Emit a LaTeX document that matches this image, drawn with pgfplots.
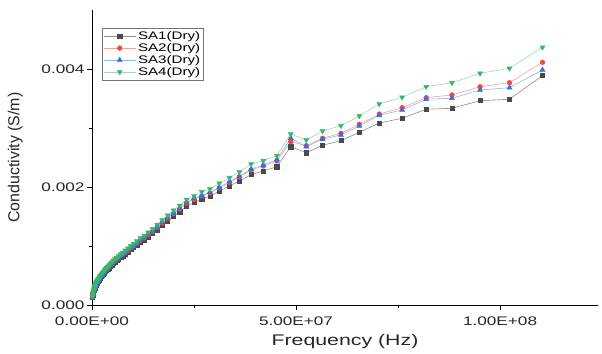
\documentclass[border=0pt]{standalone}
\usepackage{fontspec}
\setmainfont{Liberation Sans}[FakeStretch=1.38]
\newfontfamily\plainsans{Liberation Sans}
\usepackage{pgfplots}
\usepackage{pgfplotstable}
\pgfplotsset{compat=1.18}
\definecolor{cA}{HTML}{4A4A4A}
\definecolor{cAl}{HTML}{8C8C8C}
\definecolor{cB}{HTML}{F04848}
\definecolor{cBl}{HTML}{F7A0A0}
\definecolor{cC}{HTML}{2F6FE8}
\definecolor{cCl}{HTML}{93B5F2}
\definecolor{cD}{HTML}{3DB36B}
\definecolor{cDl}{HTML}{9ED9B3}
\pgfplotstableread{
f s1 s2 s3 s4
0.10 0.000131 0.000135 0.000136 0.000140
0.20 0.000172 0.000177 0.000178 0.000183
0.30 0.000205 0.000211 0.000212 0.000218
0.40 0.000229 0.000236 0.000237 0.000244
0.52 0.000250 0.000258 0.000259 0.000267
0.56 0.000261 0.000269 0.000270 0.000278
0.60 0.000270 0.000279 0.000280 0.000288
0.65 0.000282 0.000291 0.000292 0.000301
0.70 0.000291 0.000300 0.000302 0.000311
0.75 0.000301 0.000310 0.000312 0.000321
0.81 0.000311 0.000320 0.000322 0.000332
0.87 0.000320 0.000330 0.000332 0.000342
0.94 0.000332 0.000342 0.000344 0.000354
1.01 0.000344 0.000354 0.000356 0.000367
1.09 0.000355 0.000366 0.000368 0.000379
1.17 0.000367 0.000378 0.000380 0.000391
1.26 0.000376 0.000388 0.000390 0.000402
1.36 0.000388 0.000400 0.000402 0.000414
1.47 0.000400 0.000413 0.000415 0.000427
1.58 0.000412 0.000425 0.000427 0.000440
1.70 0.000426 0.000439 0.000441 0.000454
1.84 0.000438 0.000452 0.000454 0.000468
1.98 0.000454 0.000468 0.000470 0.000484
2.13 0.000466 0.000481 0.000483 0.000497
2.30 0.000483 0.000498 0.000500 0.000515
2.48 0.000499 0.000514 0.000517 0.000533
2.67 0.000515 0.000531 0.000534 0.000550
2.87 0.000532 0.000548 0.000551 0.000568
3.10 0.000551 0.000568 0.000571 0.000588
3.34 0.000569 0.000587 0.000590 0.000608
3.60 0.000589 0.000607 0.000610 0.000628
3.87 0.000609 0.000628 0.000631 0.000650
4.17 0.000630 0.000650 0.000653 0.000673
4.50 0.000654 0.000675 0.000678 0.000698
4.85 0.000678 0.000700 0.000703 0.000724
5.22 0.000703 0.000725 0.000729 0.000751
5.62 0.000728 0.000750 0.000754 0.000777
6.06 0.000753 0.000776 0.000780 0.000803
6.53 0.000777 0.000801 0.000805 0.000829
7.04 0.000810 0.000835 0.000839 0.000864
7.58 0.000834 0.000860 0.000864 0.000890
8.17 0.000867 0.000894 0.000898 0.000925
8.80 0.000899 0.000927 0.000932 0.000960
9.50 0.000941 0.000970 0.000975 0.001004
10.2 0.000974 0.001004 0.001009 0.001039
11.0 0.001014 0.001046 0.001051 0.001083
11.85 0.001063 0.001096 0.001102 0.001135
12.8 0.001104 0.001138 0.001144 0.001178
13.8 0.001153 0.001189 0.001195 0.001231
14.85 0.001210 0.001248 0.001254 0.001292
16.0 0.001276 0.001315 0.001322 0.001362
17.2 0.001349 0.001391 0.001398 0.001440
18.55 0.001423 0.001468 0.001475 0.001519
20.0 0.001504 0.001551 0.001559 0.001606
21.5 0.001579 0.001628 0.001636 0.001685
23.2 0.001676 0.001728 0.001737 0.001789
25.0 0.001734 0.001788 0.001805 0.001848
26.9 0.001792 0.001848 0.001856 0.001920
28.9 0.001848 0.001898 0.001907 0.001966
31.2 0.001927 0.001983 0.001992 0.002063
33.7 0.002017 0.002076 0.002093 0.002158
36.1 0.002102 0.002170 0.002178 0.002254
39.0 0.002209 0.002288 0.002305 0.002390
42.0 0.002271 0.002356 0.002373 0.002446
45.3 0.002344 0.002441 0.002466 0.002531
48.7 0.002683 0.002768 0.002826 0.002898
52.5 0.002581 0.002700 0.002683 0.002797
56.5 0.002707 0.002826 0.002809 0.002949
61.0 0.002785 0.002910 0.002882 0.003039
65.5 0.002927 0.003063 0.003034 0.003204
70.4 0.003085 0.003237 0.003216 0.003407
76.0 0.003165 0.003344 0.003305 0.003521
81.9 0.003317 0.003514 0.003487 0.003700
88.2 0.003334 0.003560 0.003504 0.003768
95.1 0.003463 0.003700 0.003644 0.003927
102.3 0.003487 0.003768 0.003683 0.004012
110.4 0.003887 0.004114 0.003983 0.004368
}\data
\begin{document}
\begin{tikzpicture}
\begin{axis}[
  scale only axis,
  width=506bp, height=295bp,
  xmin=0, xmax=124, ymin=0, ymax=0.005,
  axis x line*=bottom, axis y line*=left,
  axis line style={-, line width=1pt, black},
  tick align=outside,
  major tick length=5bp, minor tick length=3bp,
  tick style={black, line width=0.9pt},
  xtick={0,50,100}, minor xtick={25,75},
  xticklabels={0.00E+00,5.00E+07,1.00E+08},
  ytick={0,0.002,0.004}, minor ytick={0.001,0.003},
  yticklabels={0.000,0.002,0.004},
  scaled x ticks=false, scaled y ticks=false,
  ticklabel style={font=\fontsize{12.5}{14}\selectfont, text=black!85},
  xticklabel style={yshift=-3bp},
  yticklabel style={xshift=1bp},
  xlabel={Frequency (Hz)},
  ylabel={\plainsans Conductivity (S/m)},
  xlabel style={font=\fontsize{15.5}{18}\selectfont, text=black!85, yshift=-2bp},
  ylabel style={font=\fontsize{16}{18}\selectfont, text=black!85, yshift=12bp},
  legend cell align=left,
  legend style={at={(0.019,0.94)}, anchor=north west, draw=black!55, line width=0.6pt,
    font=\fontsize{11}{12.7}\selectfont, inner sep=1.5bp, row sep=-1.5bp},
  legend image code/.code={\draw[mark repeat=2,mark phase=2,#1] plot coordinates {(0bp,0bp)(16bp,0bp)(32bp,0bp)};},
]
\addplot[color=cAl, line width=0.6pt, mark=square*, mark size=2.1bp, mark options={draw=cA, fill=cA}] table[x=f,y=s1]{\data};
\addlegendentry{SA1(Dry)}
\addplot[color=cBl, line width=0.6pt, mark=*, mark size=2.3bp, mark options={draw=cB, fill=cB}] table[x=f,y=s2]{\data};
\addlegendentry{SA2(Dry)}
\addplot[color=cCl, line width=0.6pt, mark=triangle*, mark size=2.8bp, mark options={draw=cC, fill=cC}] table[x=f,y=s3]{\data};
\addlegendentry{SA3(Dry)}
\addplot[color=cDl, line width=0.6pt, mark=triangle*, mark size=2.8bp, mark options={draw=cD, fill=cD, rotate=180}] table[x=f,y=s4]{\data};
\addlegendentry{SA4(Dry)}
\coordinate (bl) at (rel axis cs:0,0);
\coordinate (tr) at (rel axis cs:1,1);
\end{axis}
\pgfresetboundingbox
\path[use as bounding box] ([xshift=-92bp,yshift=-49bp]bl) rectangle ([xshift=4bp,yshift=10bp]tr);
\end{tikzpicture}
\end{document}
